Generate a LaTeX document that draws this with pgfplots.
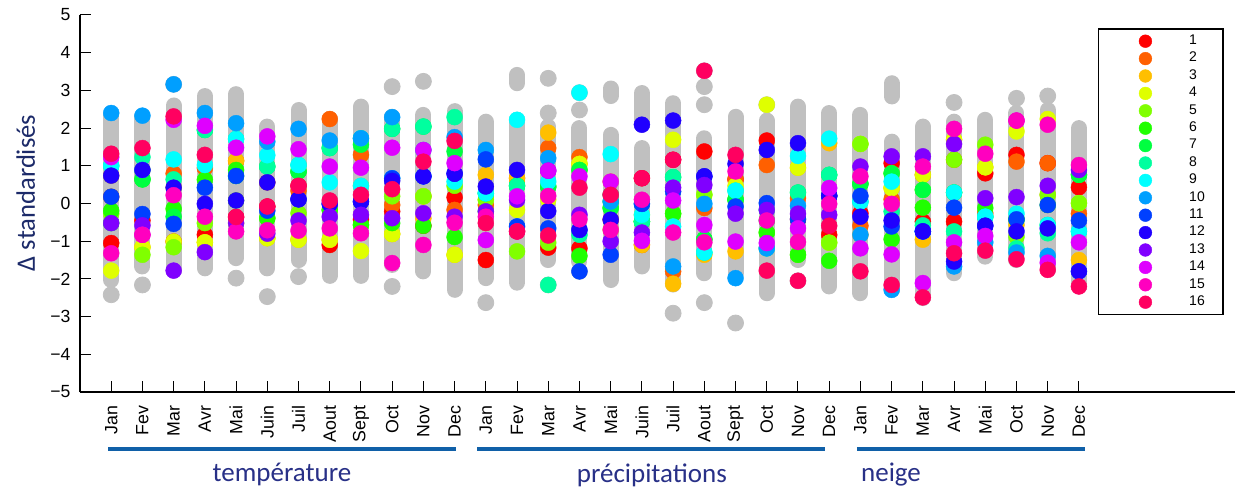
\documentclass[border=0pt]{standalone}
\usepackage{fontspec}
\setmainfont{Liberation Sans}
\newfontfamily\carlito{Carlito}
\usepackage{pgfplots}
\usepackage{pgfplotstable}
\pgfplotsset{compat=1.18}

\definecolor{c1}{HTML}{FF0000}
\definecolor{c2}{HTML}{FF6000}
\definecolor{c3}{HTML}{FFBF00}
\definecolor{c4}{HTML}{DFFF00}
\definecolor{c5}{HTML}{80FF00}
\definecolor{c6}{HTML}{20FF00}
\definecolor{c7}{HTML}{00FF40}
\definecolor{c8}{HTML}{00FF9F}
\definecolor{c9}{HTML}{00FFFF}
\definecolor{c10}{HTML}{009FFF}
\definecolor{c11}{HTML}{0040FF}
\definecolor{c12}{HTML}{2000FF}
\definecolor{c13}{HTML}{8000FF}
\definecolor{c14}{HTML}{DF00FF}
\definecolor{c15}{HTML}{FF00BF}
\definecolor{c16}{HTML}{FF0060}
\definecolor{greyc}{HTML}{C0C0C0}
\definecolor{navy}{RGB}{40,48,135}
\definecolor{ylnavy}{RGB}{28,42,105}
\definecolor{bline}{RGB}{16,96,168}

% grey bands (segments separated by nan)
\pgfplotstableread{
x y
1 2.35
1 -2.03
1 nan
2 2.30
2 -1.67
2 nan
3 2.60
3 -1.78
3 nan
4 2.85
4 -1.72
4 nan
5 2.90
5 -1.45
5 nan
6 2.04
6 -1.72
6 nan
7 2.48
7 -1.50
7 nan
8 2.24
8 -1.92
8 nan
9 2.57
9 -1.92
9 nan
10 2.30
10 -1.63
10 nan
11 2.35
11 -1.80
11 nan
12 2.45
12 -2.29
12 nan
13 2.17
13 -1.98
13 nan
14 2.22
14 -2.10
14 nan
14 3.41
14 3.19
14 nan
15 2.04
15 -1.50
15 nan
16 2.00
16 -1.54
16 nan
17 1.82
17 -2.03
17 nan
17 3.05
17 2.85
17 nan
18 1.47
18 -1.67
18 nan
18 2.93
18 2.09
18 nan
19 2.66
19 -2.15
19 nan
20 1.73
20 -1.85
20 nan
21 2.30
21 -1.85
21 nan
22 2.20
22 -2.38
22 nan
23 2.57
23 -1.50
23 nan
24 2.40
24 -2.20
24 nan
25 2.35
25 -2.38
25 nan
26 1.64
26 -2.29
26 nan
26 3.19
26 2.84
26 nan
27 2.04
27 -2.51
27 nan
28 2.17
28 -1.85
28 nan
29 2.22
29 -1.41
29 nan
30 2.40
30 -1.50
30 nan
31 2.48
31 -1.76
31 nan
32 2.00
32 -2.20
}\greyband

\pgfplotstableread{
x y
1 -2.42
2 -2.16
3 3.16
5 -1.98
6 -2.47
7 -1.94
10 3.10
10 -2.20
11 3.24
13 -2.63
15 3.32
15 2.40
15 -2.16
16 2.94
16 2.48
16 -1.80
19 -2.91
20 3.52
20 3.10
20 2.62
20 -2.63
21 -3.17
22 2.62
23 -2.05
28 2.68
30 2.79
31 2.85
}\greyout

\pgfplotstableread{
x c1 c2 c3 c4 c5 c6 c7 c8 c9 c10 c11 c12 c13 c14 c15 c16
1 -1.05 0.18 0.74 -1.78 -0.27 -0.19 -0.52 1.00 1.00 2.40 0.18 0.74 -0.52 1.23 -1.32 1.32
2 -0.45 0.89 -1.16 -1.16 -1.36 0.64 0.64 1.23 0.89 2.33 -0.28 0.89 -0.58 -0.83 -0.83 1.47
3 -1.01 0.79 0.42 -1.01 -1.16 -0.14 -0.35 0.64 1.17 3.16 -0.54 0.42 -1.78 2.22 0.22 2.31
4 -0.83 0.94 -1.03 -1.03 -0.52 0.63 1.95 1.95 1.02 2.40 0.42 -0.01 -1.29 2.06 -0.35 1.29
5 -0.36 1.13 1.13 -0.52 0.08 0.89 0.73 1.71 1.71 2.13 0.73 0.08 -0.52 1.48 -0.74 -0.36
6 -0.08 0.56 -0.92 -0.92 -0.39 -0.39 0.98 0.98 1.28 1.64 -0.19 0.56 -0.80 1.78 -0.71 -0.08
7 0.47 0.34 -0.96 -0.96 -0.26 0.85 0.85 1.02 1.02 1.98 0.11 0.11 -0.45 1.44 -0.72 0.47
8 -1.10 2.24 -0.96 -0.96 -0.17 -0.17 1.47 1.47 0.56 1.67 -0.01 -0.01 -0.35 0.98 -0.66 0.08
9 -0.42 1.29 0.47 -1.26 -0.57 -0.57 1.56 1.73 0.47 1.73 0.05 0.05 -0.30 0.95 -0.79 0.23
10 -0.21 -0.04 -0.81 -0.81 0.19 -0.52 1.98 1.98 0.67 2.29 0.67 0.60 -0.39 1.48 -1.58 0.38
11 -0.59 0.19 -0.39 0.19 0.19 -0.59 2.04 2.04 0.72 1.42 0.72 0.72 -0.26 1.42 -1.10 1.11
12 0.16 -0.17 -1.36 -1.36 0.47 -0.89 1.38 2.29 0.58 1.76 0.79 0.79 -0.35 1.07 -0.51 1.66
13 -1.50 -0.04 0.76 0.10 0.10 -0.21 0.27 0.27 0.27 1.42 1.17 0.45 -0.21 -0.97 -0.35 -0.52
14 -0.74 0.67 0.67 -0.17 -1.27 0.47 0.47 0.47 2.22 -0.61 -0.61 0.89 0.10 0.19 -0.74 -0.74
15 -1.17 1.47 1.88 0.10 -1.04 0.45 0.45 -2.16 0.58 1.20 -0.66 -0.20 0.87 0.87 0.20 -0.85
16 -1.19 1.23 1.05 1.05 0.89 -1.39 0.89 -0.83 2.94 -0.70 -1.80 -0.70 -0.30 0.72 -0.42 0.42
17 0.23 -0.43 0.58 -0.70 -0.12 0.05 -0.12 0.23 1.31 0.05 -1.36 -0.43 -1.00 0.58 -0.70 0.23
18 0.67 -1.10 -1.10 -0.30 -0.48 -0.48 -0.48 -0.48 -0.30 -0.01 -0.01 2.09 -0.77 -0.99 0.10 0.67
19 1.16 -1.80 -2.13 1.69 -0.27 -0.27 0.70 0.70 -0.61 -1.67 0.32 2.20 0.42 0.08 -0.77 1.16
20 1.38 -0.12 -1.36 0.23 0.23 -0.95 -0.95 -1.30 -1.30 -0.01 0.72 0.72 0.49 -0.57 -1.03 3.52
21 0.64 0.64 -1.27 0.47 0.10 0.10 0.10 0.34 0.34 -1.98 -0.08 1.05 -0.27 -1.01 0.85 1.29
22 1.67 1.02 -1.19 2.62 -0.77 -0.77 -0.45 -0.17 -1.19 -1.19 0.01 1.42 -0.17 -1.05 -0.45 -1.78
23 -0.42 0.14 0.95 0.95 -1.36 -1.36 0.29 0.29 1.26 -0.06 -0.42 1.60 -0.27 -0.66 -1.02 -2.05
24 -0.83 0.20 1.60 -1.04 -1.04 -1.52 0.76 0.76 1.72 0.20 0.20 0.20 -0.30 0.41 -0.01 -0.59
25 -0.26 -0.59 -0.83 1.58 1.58 0.52 0.52 0.05 0.05 -0.83 0.20 -0.35 0.98 -1.19 0.72 -1.80
26 1.07 0.11 0.41 0.41 0.80 -0.95 0.80 -0.21 0.58 -2.29 -0.61 -0.45 1.25 -1.35 -0.01 -2.16
27 -0.48 0.76 -0.96 0.76 0.36 -0.11 0.36 -0.58 -0.74 -0.74 -0.74 -0.74 1.25 -2.11 0.98 -2.49
28 -0.48 1.16 1.69 1.69 1.16 0.29 0.29 -0.74 0.29 -1.67 -0.11 -1.54 1.58 -1.03 1.98 -1.32
29 0.80 -0.26 0.96 0.96 1.56 -0.12 -0.35 -0.35 -0.35 -1.03 -0.59 -0.59 0.14 -0.86 1.32 -1.25
30 1.29 1.11 -0.57 1.91 -0.88 -0.42 -0.42 -1.19 -0.27 -1.30 -0.42 -0.74 0.17 2.20 2.20 -1.48
31 1.07 1.07 0.23 2.24 0.23 -0.04 -0.57 -0.79 -0.57 -1.39 -0.04 -0.66 0.47 -1.57 2.09 -1.76
32 0.43 -0.27 -1.50 0.01 0.01 0.76 0.76 -0.74 -0.74 -1.80 -0.45 -1.80 0.89 -1.03 1.02 -2.20
}\cdata

\pgfplotsset{
  dot/.style={only marks, mark=*, mark size=4pt, color=#1, mark options={fill=#1, draw=#1, line width=0.2pt}},
}

\begin{document}
\begin{tikzpicture}
\useasboundingbox (-40pt,-48pt) rectangle (577.5pt,196pt);
\begin{axis}[
  scale only axis,
  width=577.5pt, height=188.5pt,
  xmin=0, xmax=37, ymin=-5, ymax=5,
  axis lines*=left,
  axis line style={line width=0.7pt},
  tick style={line width=0.5pt, black},
  tick align=inside,
  major tick length=5.5pt,
  xtick={1,2,...,32},
  xticklabels={Jan,Fev,Mar,Avr,Mai,Juin,Juil,Aout,Sept,Oct,Nov,Dec,Jan,Fev,Mar,Avr,Mai,Juin,Juil,Aout,Sept,Oct,Nov,Dec,Jan,Fev,Mar,Avr,Mai,Oct,Nov,Dec},
  ytick={-5,-4,...,5},
  yticklabels={−5,−4,−3,−2,−1,0,1,2,3,4,5},
  xticklabel style={rotate=90, anchor=east, font=\fontsize{8.9}{10}\selectfont},
  yticklabel style={font=\fontsize{8.8}{10}\selectfont},
  xticklabel shift=3.4pt,
  yticklabel shift=1.2pt,
  ylabel={Δ standardisés},
  ylabel style={at={(rel axis cs:-0.047,0.528)}, anchor=center, font=\carlito\fontsize{13.3}{15}\selectfont, text=ylnavy},
  clip=false,
  unbounded coords=jump,
  legend cell align=left,
  legend image code/.code={\path (-20pt,0pt) (21.5pt,0pt); \draw[#1, mark size=3.2pt] plot coordinates {(0pt,0pt)};},
  legend style={at={(rel axis cs:0.9905,0.9655)}, anchor=north east, draw=black, line width=0.8pt,
     font=\fontsize{7}{8}\selectfont, inner xsep=3pt, inner ysep=3pt, row sep=2.3pt,
     nodes={inner xsep=0pt, inner ysep=0pt, text width=14pt}},
]
\addplot[forget plot, no markers, line width=8pt, line cap=round, line join=round, color=greyc] table[x=x, y=y]{\greyband};
\addplot[forget plot, only marks, mark=*, mark size=4pt, color=greyc] table[x=x, y=y]{\greyout};

\addplot[dot=c1] table[x=x, y=c1]{\cdata};
\addplot[dot=c2] table[x=x, y=c2]{\cdata};
\addplot[dot=c3] table[x=x, y=c3]{\cdata};
\addplot[dot=c4] table[x=x, y=c4]{\cdata};
\addplot[dot=c5] table[x=x, y=c5]{\cdata};
\addplot[dot=c6] table[x=x, y=c6]{\cdata};
\addplot[dot=c7] table[x=x, y=c7]{\cdata};
\addplot[dot=c8] table[x=x, y=c8]{\cdata};
\addplot[dot=c9] table[x=x, y=c9]{\cdata};
\addplot[dot=c10] table[x=x, y=c10]{\cdata};
\addplot[dot=c11] table[x=x, y=c11]{\cdata};
\addplot[dot=c12] table[x=x, y=c12]{\cdata};
\addplot[dot=c13] table[x=x, y=c13]{\cdata};
\addplot[dot=c14] table[x=x, y=c14]{\cdata};
\addplot[dot=c15] table[x=x, y=c15]{\cdata};
\addplot[dot=c16] table[x=x, y=c16]{\cdata};
\legend{1,2,3,4,5,6,7,8,9,10,11,12,13,14,15,16}

\draw[bline, line width=2.2pt] (axis cs:0.897,-6.51) -- (axis cs:12.04,-6.51);
\draw[bline, line width=2.2pt] (axis cs:12.72,-6.51) -- (axis cs:23.87,-6.51);
\draw[bline, line width=2.2pt] (axis cs:24.89,-6.51) -- (axis cs:32.19,-6.51);
\node[font=\carlito\fontsize{13.5}{15}\selectfont, text=navy] at (axis cs:6.47,-7.2) {température};
\node[font=\carlito\fontsize{13.5}{15}\selectfont, text=navy] at (axis cs:18.32,-7.2) {précipitations};
\node[font=\carlito\fontsize{13.5}{15}\selectfont, text=navy] at (axis cs:25.98,-7.2) {neige};
\end{axis}
\end{tikzpicture}
\end{document}
